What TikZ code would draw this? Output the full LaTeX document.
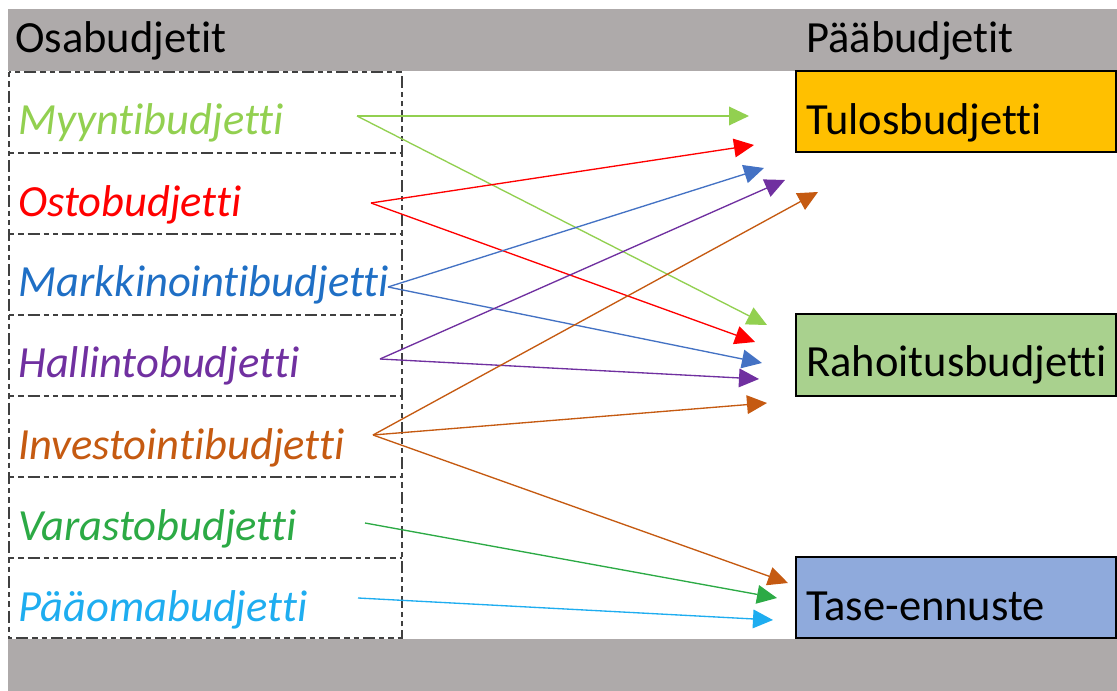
\documentclass[tikz,border=0pt]{standalone}
\usepackage{fontspec}
\setmainfont{Carlito}[RawFeature={-liga;-clig}]
\usetikzlibrary{arrows.meta}
\definecolor{bandgray}{HTML}{AEAAAA}
\definecolor{cmyynti}{HTML}{92D050}
\definecolor{costo}{HTML}{FF0000}
\definecolor{cmarkt}{HTML}{1F6FC5}
\definecolor{amarkt}{HTML}{4472C4}
\definecolor{challi}{HTML}{7030A0}
\definecolor{cinves}{HTML}{C55A11}
\definecolor{cvara}{HTML}{2CAA45}
\definecolor{cpaao}{HTML}{1EADF0}
\definecolor{ctulos}{HTML}{FFC000}
\definecolor{crahoi}{HTML}{A9D18E}
\definecolor{ctase}{HTML}{8FAADC}
\tikzset{
  lbl/.style={anchor=base west, inner sep=0pt, font=\fontsize{33.4}{40}\selectfont},
  sublbl/.style={lbl, font=\fontsize{33.4}{40}\selectfont\itshape},
  mainbox/.style={draw=black, line width=1.8pt},
  divline/.style={draw=black!75, line width=1pt, dash pattern=on 4pt off 3pt on 4pt off 3pt on 9pt off 3pt},
  conn/.style={line width=1pt, -{Triangle[length=15pt,width=14pt]}},
}
\begin{document}
\begin{tikzpicture}[x=0.75pt,y=-0.75pt]
\useasboundingbox (0,0) rectangle (1117,691);
\fill[white] (0,0) rectangle (1117,691);
% gray bands
\fill[bandgray] (8,9) rectangle (1117,71);
\fill[bandgray] (8,639) rectangle (1117,691);
% main boxes
\fill[ctulos] (796,71) rectangle (1117,152);
\draw[mainbox] (796,71) -- (1116,71) -- (1116,152) -- (796,152) -- cycle;
\fill[crahoi] (796,314) rectangle (1117,396);
\draw[mainbox] (796,314) -- (1116,314) -- (1116,396) -- (796,396) -- cycle;
\fill[ctase] (796,557) rectangle (1117,638);
\draw[mainbox] (796,557) -- (1116,557) -- (1116,638) -- (796,638) -- cycle;
% dashed sub-budget table
\draw[divline] (9,72) rectangle (402,638);
\foreach \yy in {153,234,315,396,477,558}
  \draw[divline] (9,\yy) -- (402,\yy);
% headers
\node[lbl] (hosa) at (15,53) {Osabudjetit};
\node[lbl] (hpaa) at (806,53) {Pääbudjetit};
% main labels
\node[lbl] (tulos) at (806,135) {Tulosbudjetti};
\node[lbl] (rahoi) at (806,377) {Rahoitusbudjetti};
\node[lbl] (tase) at (806,620) {Tase-ennuste};
% sub labels
\node[sublbl, text=cmyynti] (myynti) at (18,135) {Myyntibudjetti};
\node[sublbl, text=costo] (osto) at (18,217) {Ostobudjetti};
\node[sublbl, text=cmarkt] (markt) at (18,297) {Markkinointibudjetti};
\node[sublbl, text=challi] (halli) at (18,378) {Hallintobudjetti};
\node[sublbl, text=cinves] (inves) at (18,459) {Investointibudjetti};
\node[sublbl, text=cvara] (vara) at (18,540) {Varastobudjetti};
\node[sublbl, text=cpaao] (paao) at (18,621) {Pääomabudjetti};
% connector start points
\coordinate (sMy) at (357,116);
\coordinate (sOs) at (371,203);
\coordinate (sMa) at (388,287);
\coordinate (sHa) at (380,359);
\coordinate (sIn) at (373,435);
\coordinate (sVa) at (365,523);
\coordinate (sPa) at (358,598);
% connector tips
\coordinate (tMy1) at (749,116);
\coordinate (tMy2) at (767,325);
\coordinate (tOs1) at (754,145);
\coordinate (tOs2) at (755,342);
\coordinate (tMa1) at (764,168);
\coordinate (tMa2) at (762,363);
\coordinate (tHa1) at (785,180);
\coordinate (tHa2) at (759,379);
\coordinate (tIn1) at (818,192);
\coordinate (tIn2) at (767,403);
\coordinate (tIn3) at (788,583);
\coordinate (tVa) at (777,598);
\coordinate (tPa) at (773,620);
% connectors
\draw[conn, cmyynti] (sMy) -- (tMy1);
\draw[conn, cmyynti] (sMy) -- (tMy2);
\draw[conn, costo] (sOs) -- (tOs1);
\draw[conn, costo] (sOs) -- (tOs2);
\draw[conn, amarkt] (sMa) -- (tMa1);
\draw[conn, amarkt] (sMa) -- (tMa2);
\draw[conn, challi] (sHa) -- (tHa1);
\draw[conn, challi] (sHa) -- (tHa2);
\draw[conn, cinves] (sIn) -- (tIn1);
\draw[conn, cinves] (sIn) -- (tIn2);
\draw[conn, cinves] (sIn) -- (tIn3);
\draw[conn, cvara] (sVa) -- (tVa);
\draw[conn, cpaao] (sPa) -- (tPa);
\end{tikzpicture}
\end{document}
